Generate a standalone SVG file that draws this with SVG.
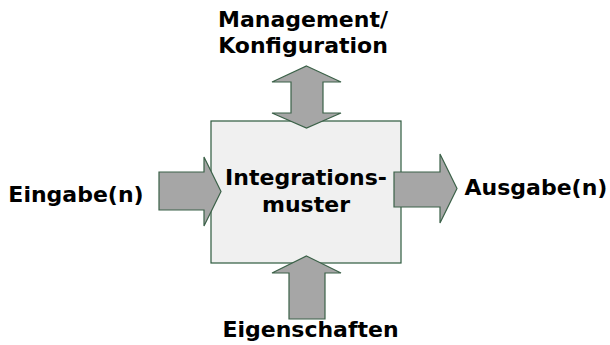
<svg xmlns="http://www.w3.org/2000/svg" width="610" height="345" viewBox="0 0 610 345">
  <style>
    .lbl { font-family: "DejaVu Sans", Verdana, sans-serif; font-weight: bold; font-size: 22px; fill: #000; text-anchor: middle; }
    .box { fill: #f0f0f0; stroke: #2e5a3e; stroke-width: 1.2; }
    .arrow { fill: #a6a6a6; stroke: #3b6148; stroke-width: 1.2; stroke-linejoin: miter; }
  </style>
  <rect width="610" height="345" fill="#ffffff"/>

  <g id="integrationsmuster">
    <rect class="box" x="211" y="121" width="190" height="142"/>
    <text class="lbl" x="306" y="185">Integrations-</text>
    <text class="lbl" x="306" y="212">muster</text>
  </g>

  <g id="connectors">
    <!-- Management / configuration: two-way arrow -->
    <polygon class="arrow" points="306.5,66 341,82 323,82 323,113 341,113 306.5,128 272,113 291,113 291,82 272,82"/>
    <!-- inputs -->
    <polygon class="arrow" points="159,172 204,172 204,157 221,191.5 204,226 204,210 159,210"/>
    <!-- outputs -->
    <polygon class="arrow" points="394,172 440,172 440,154 457,188.5 440,223 440,207 394,207"/>
    <!-- properties -->
    <polygon class="arrow" points="306.5,256 341,273 325,273 325,319 289,319 289,273 272,273"/>
  </g>

  <g id="management">
    <text class="lbl" x="303" y="27">Management/</text>
    <text class="lbl" x="303" y="53">Konfiguration</text>
  </g>
  <g id="eingabe">
    <text class="lbl" x="76" y="201.5">Eingabe(n)</text>
  </g>
  <g id="ausgabe">
    <text class="lbl" x="536" y="195">Ausgabe(n)</text>
  </g>
  <g id="eigenschaften">
    <text class="lbl" x="310.5" y="337">Eigenschaften</text>
  </g>
</svg>
